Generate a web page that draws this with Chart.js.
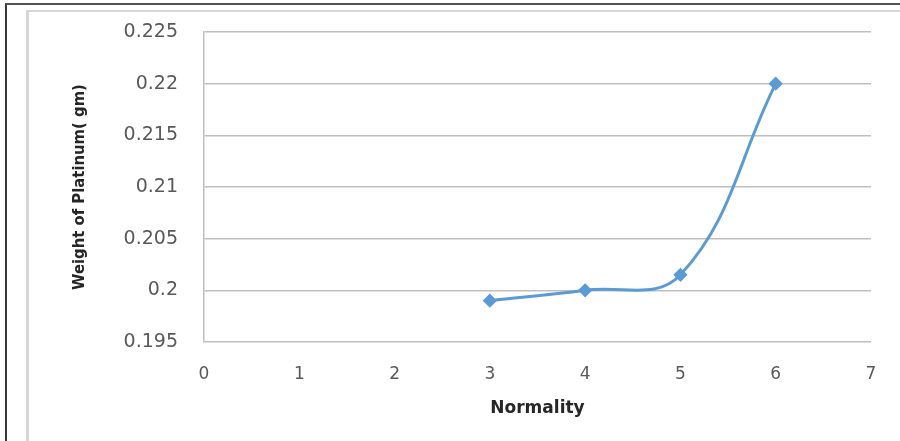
<!DOCTYPE html>
<html>
<head>
<meta charset="utf-8">
<script src="https://cdn.jsdelivr.net/npm/chart.js@4.4.1/dist/chart.umd.min.js"></script>
<style>
    html, body { margin: 0; padding: 0; background: #fff; }
    #wrap { position: relative; width: 900px; height: 441px; overflow: hidden; }
    #outer { position: absolute; left: 5px; top: 3px; right: -10px; bottom: -10px; border-left: 2px solid #3a3a3a; border-top: 2px solid #555; }
    #inner { position: absolute; left: 26px; top: 10px; right: -10px; bottom: -10px; border-left: 3px solid #d6d6d6; border-top: 2px solid #d6d6d6; }
    canvas { position: absolute; left: 0; top: 0; }
</style>
</head>
<body>
<div id="wrap">
    <div id="outer"></div>
    <div id="inner"></div>
    <canvas id="normChart" width="900" height="441"></canvas>
</div>
<script>
const normality = [3, 4, 5, 6];
const platinumWeight = [0.199, 0.2, 0.2015, 0.22];
const yTicks = [0.195, 0.2, 0.205, 0.21, 0.215, 0.22, 0.225];

const ctx = document.getElementById('normChart').getContext('2d');

new Chart(ctx, {
    type: 'line',
    data: {
        datasets: [{
            label: 'Weight of Platinum',
            data: normality.map((n, i) => ({ x: n, y: platinumWeight[i] })),
            borderColor: '#5B9BD5',
            backgroundColor: '#5B9BD5',
            borderWidth: 3,
            tension: 0.4,
            pointStyle: 'rectRot',
            pointRadius: 5,
            pointHoverRadius: 5
        }]
    },
    options: {
        responsive: false,
        animation: false,
        layout: { padding: { left: 70, top: 32, right: 29, bottom: 22 } },
        plugins: { legend: { display: false }, tooltip: { enabled: false } },
        scales: {
            x: {
                type: 'linear',
                min: 0,
                max: 7,
                afterFit: (scale) => { scale.height = 77; },
                ticks: {
                    stepSize: 1,
                    padding: 22,
                    color: '#595959',
                    font: { family: 'DejaVu Sans', size: 17 }
                },
                grid: { display: false, drawTicks: false },
                border: { display: false },
                title: {
                    display: true,
                    text: 'Normality',
                    color: '#262626',
                    padding: 0,
                    font: { family: 'DejaVu Sans', size: 17, weight: 'bold' }
                }
            },
            y: {
                min: 0.195,
                max: 0.225,
                afterFit: (scale) => {
                    scale.width = 134;
                    // labels may overhang the plot, as in the original
                    scale.paddingTop = 0;
                    scale.paddingBottom = 0;
                },
                afterBuildTicks: (scale) => { scale.ticks = yTicks.map(v => ({ value: v })); },
                ticks: {
                    padding: 26,
                    color: '#595959',
                    font: { family: 'DejaVu Sans', size: 19 },
                    callback: (v) => String(+v.toFixed(3))
                },
                grid: { color: '#BFBFBF', lineWidth: 1.5, drawTicks: false },
                border: { display: true, color: '#BFBFBF', width: 1.5 },
                title: {
                    display: true,
                    text: 'Weight of Platinum( gm)',
                    color: '#262626',
                    padding: 0,
                    font: { family: "'Liberation Sans Narrow', 'DejaVu Sans Condensed', sans-serif", size: 16.5, weight: 'bold' }
                }
            }
        }
    }
});
</script>
</body>
</html>
